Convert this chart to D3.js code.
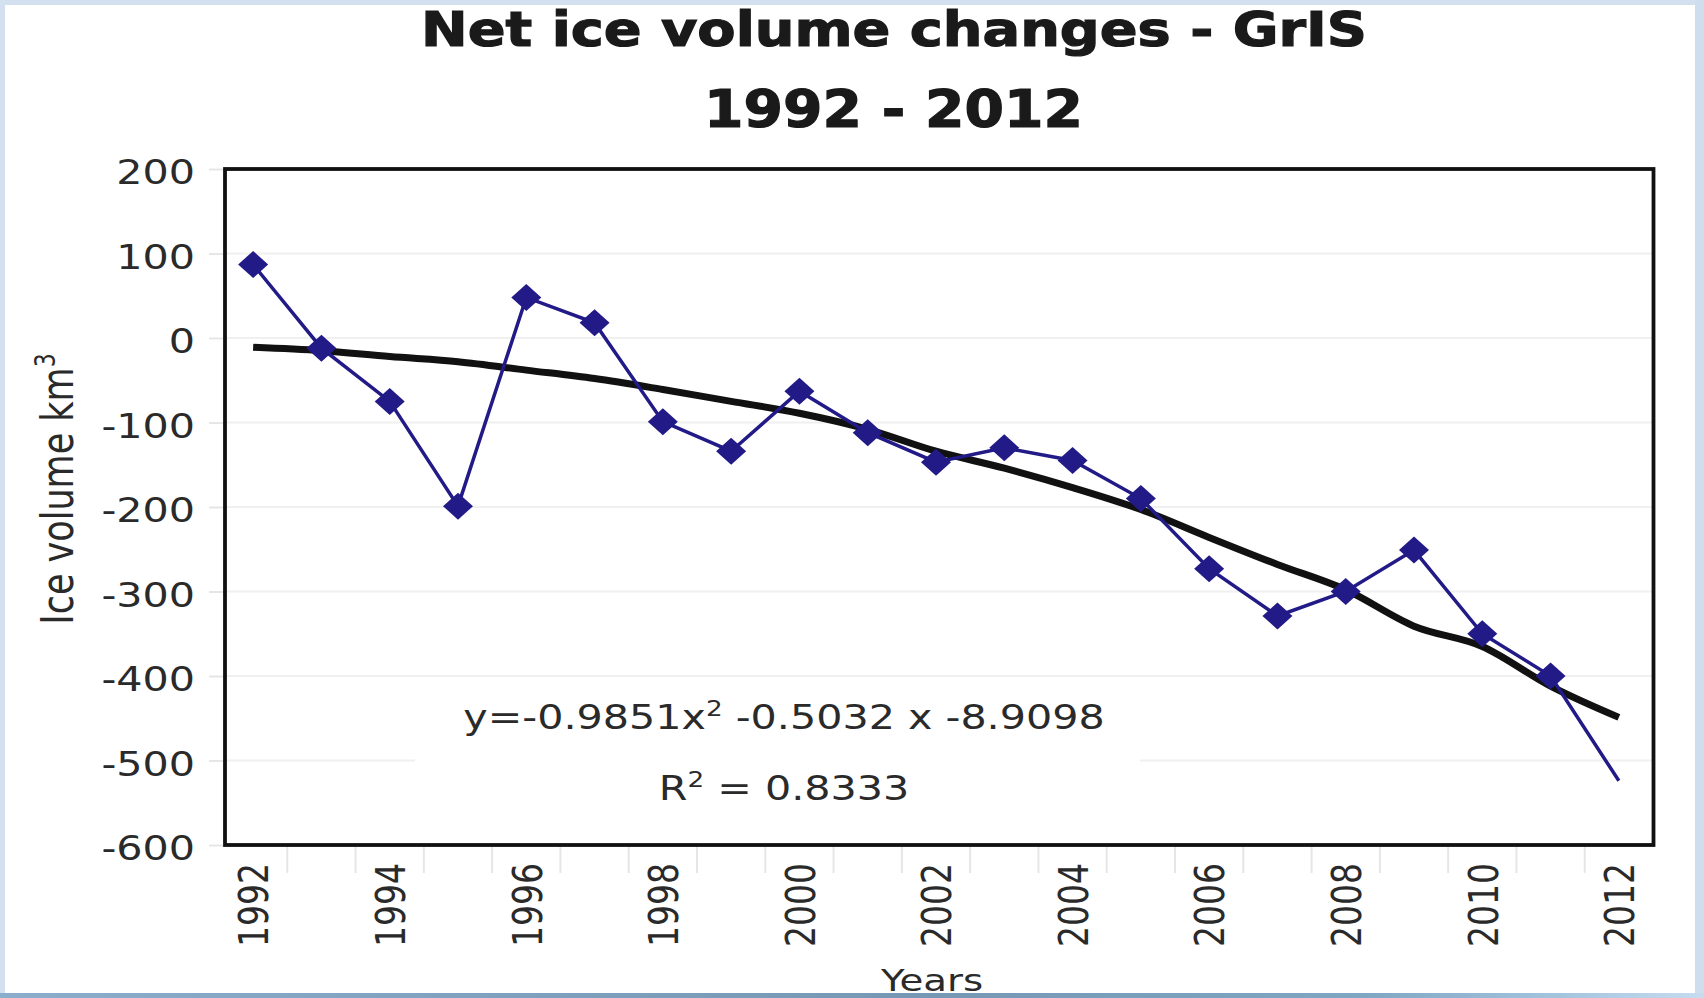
<!DOCTYPE html>
<html>
<head>
<meta charset="utf-8">
<script src="https://cdn.jsdelivr.net/npm/d3@7"></script>
<style>
  html, body { margin: 0; padding: 0; background: #ffffff; }
  svg { display: block; }
</style>
</head>
<body>
<svg id="chart" width="1704" height="998"></svg>
<script>
// Greenland ice sheet net volume change per year (km³)
const years = [1992, 1993, 1994, 1995, 1996, 1997, 1998, 1999, 2000, 2001, 2002,
               2003, 2004, 2005, 2006, 2007, 2008, 2009, 2010, 2011, 2012];
const netVolume = [87, -12, -75, -199, 48, 18, -99, -134, -63, -112, -147,
                   -130, -145, -190, -273, -329, -300, -251, -350, -400, -524];
// polynomial trend line as plotted
const trendVolume = [-11, -15, -22, -28, -38, -48, -61, -75, -89, -108, -134,
                     -154, -177, -203, -236, -268, -298, -341, -365, -412, -449];
const yTicks = [200, 100, 0, -100, -200, -300, -400, -500, -600];
const xTickLabels = [1992, 1994, 1996, 1998, 2000, 2002, 2004, 2006, 2008, 2010, 2012];
const titleLines = ["Net ice volume changes - GrIS", "1992 - 2012"];
const equationMain = ["y=-0.9851x", "2", " -0.5032 x -8.9098"];
const rSquared = ["R", "2", " = 0.8333"];

const W = 1704, H = 998;
const frame = { left: 225, right: 1653.5, top: 169, bottom: 845 };
const SX = 1.25;               // horizontal text stretch
const FONT = "'DejaVu Sans', Verdana, sans-serif";
const seriesColor = "#221a86";
const textColor = "#2a2a2a";

const svg = d3.select("#chart");

const x = d3.scalePoint().domain(years).range([219, 1653]).padding(0.5);
const step = x.step();
const y = d3.scaleLinear().domain([-600, 200]).range([frame.bottom, frame.top]);

// page background and border
svg.append("rect").attr("width", W).attr("height", H).attr("fill", "#ffffff");
svg.append("rect").attr("x", 0).attr("y", 0).attr("width", 5).attr("height", H).attr("fill", "#d2e0f0");
svg.append("rect").attr("x", 0).attr("y", 0).attr("width", W).attr("height", 5).attr("fill", "#d2e0f0");
svg.append("rect").attr("x", W - 9).attr("y", 0).attr("width", 9).attr("height", H).attr("fill", "#cfdeef");

// horizontal gridlines
svg.append("g").selectAll("line").data(yTicks.filter(v => v !== 200 && v !== -600)).join("line")
  .attr("x1", frame.left).attr("x2", frame.right)
  .attr("y1", d => y(d)).attr("y2", d => y(d))
  .attr("stroke", "#f0f0f0").attr("stroke-width", 2);

// y axis
const yAxis = svg.append("g")
  .attr("transform", `translate(${frame.left},0)`)
  .call(d3.axisLeft(y).tickValues(yTicks).tickSize(16).tickPadding(0).tickFormat(d => String(d)));
yAxis.select(".domain").remove();
yAxis.selectAll(".tick line").attr("stroke", "#e6e6e6").attr("stroke-width", 2);
yAxis.selectAll(".tick text")
  .attr("x", -30 / SX).attr("dy", "0.45em")
  .attr("transform", `scale(${SX},1)`)
  .attr("font-family", FONT).attr("font-size", 33).attr("fill", textColor)
  .attr("text-anchor", "end");

// x axis: category boundaries as ticks, every second year labelled
svg.append("g").selectAll("line").data(years.slice(1)).join("line")
  .attr("x1", d => x(d) - step / 2).attr("x2", d => x(d) - step / 2)
  .attr("y1", frame.bottom).attr("y2", frame.bottom + 28)
  .attr("stroke", "#e6e6e6").attr("stroke-width", 2);

const xAxis = svg.append("g")
  .attr("transform", `translate(0,${frame.bottom})`)
  .call(d3.axisBottom(x).tickValues(xTickLabels).tickSize(0).tickPadding(0));
xAxis.select(".domain").remove();
xAxis.selectAll(".tick text")
  .attr("x", null).attr("y", null).attr("dy", "0.36em")
  .attr("transform", `translate(0,18) scale(${SX},1) rotate(-90)`)
  .attr("text-anchor", "end")
  .attr("font-family", FONT).attr("font-size", 33).attr("fill", textColor);

// plot frame
svg.append("rect")
  .attr("x", frame.left).attr("y", frame.top)
  .attr("width", frame.right - frame.left).attr("height", frame.bottom - frame.top)
  .attr("fill", "none").attr("stroke", "#111").attr("stroke-width", 3.8);

// trend line label box and text
svg.append("rect").attr("x", 415).attr("y", 688).attr("width", 725).attr("height", 125).attr("fill", "#ffffff");

function supText(parts, cx, baseline) {
  const t = svg.append("text")
    .attr("transform", `translate(${cx},${baseline}) scale(${SX},1)`)
    .attr("text-anchor", "middle")
    .attr("font-family", FONT).attr("font-size", 33).attr("fill", textColor);
  t.append("tspan").text(parts[0]);
  t.append("tspan").attr("dy", -13).attr("font-size", 21).text(parts[1]);
  t.append("tspan").attr("dy", 13).text(parts[2]);
  return t;
}
supText(equationMain, 784, 729);
supText(rSquared, 784, 800);

// trend line
const trendData = years.map((yr, i) => ({ year: yr, value: trendVolume[i] }));
svg.append("path").datum(trendData)
  .attr("d", d3.line().x(d => x(d.year)).y(d => y(d.value)).curve(d3.curveMonotoneX))
  .attr("fill", "none").attr("stroke", "#111").attr("stroke-width", 7);

// net volume series
const seriesData = years.map((yr, i) => ({ year: yr, value: netVolume[i] }));
svg.append("path").datum(seriesData)
  .attr("d", d3.line().x(d => x(d.year)).y(d => y(d.value)))
  .attr("fill", "none").attr("stroke", seriesColor).attr("stroke-width", 3.5);

const mw = 15, mh = 13.5;
svg.append("g").selectAll("path").data(seriesData.slice(0, -1)).join("path")
  .attr("transform", d => `translate(${x(d.year)},${y(d.value)})`)
  .attr("d", `M0,${-mh}L${mw},0L0,${mh}L${-mw},0Z`)
  .attr("fill", seriesColor);

// axis titles
svg.append("text")
  .attr("transform", `translate(57,489) scale(${SX},1) rotate(-90)`)
  .attr("text-anchor", "middle").attr("dy", "0.36em")
  .attr("font-family", FONT).attr("font-size", 35).attr("fill", textColor)
  .call(t => {
    t.append("tspan").text("Ice volume km");
    t.append("tspan").attr("dy", -14).attr("font-size", 22).text("3");
  });

svg.append("text")
  .attr("transform", `translate(932,991) scale(${SX},1)`)
  .attr("text-anchor", "middle")
  .attr("font-family", FONT).attr("font-size", 31).attr("fill", textColor)
  .text("Years");

// chart title, stretched to its line widths
const titleSpecs = [
  { text: titleLines[0], cx: 894, base: 46, size: 48, width: 946 },
  { text: titleLines[1], cx: 893.5, base: 127, size: 51, width: 379 }
];
titleSpecs.forEach(s => {
  const t = svg.append("text")
    .attr("text-anchor", "middle")
    .attr("font-family", FONT).attr("font-weight", "bold")
    .attr("font-size", s.size).attr("fill", "#1a1a1a")
    .attr("stroke", "#1a1a1a").attr("stroke-width", 1.2)
    .text(s.text);
  const w = t.node().getComputedTextLength();
  t.attr("transform", `translate(${s.cx},${s.base}) scale(${s.width / w},1)`);
});

// bottom band
const grad = svg.append("defs").append("linearGradient").attr("id", "bandGrad")
  .attr("x1", "0%").attr("x2", "100%");
[[0, "#8aaecb"], [0.25, "#7fa3c0"], [0.55, "#7598b5"], [0.8, "#7fa6c3"], [0.92, "#a6c6df"], [1, "#c7dcef"]]
  .forEach(([o, c]) => grad.append("stop").attr("offset", o).attr("stop-color", c));
svg.append("rect").attr("x", 0).attr("y", 993).attr("width", W).attr("height", 5).attr("fill", "url(#bandGrad)");
</script>
</body>
</html>
